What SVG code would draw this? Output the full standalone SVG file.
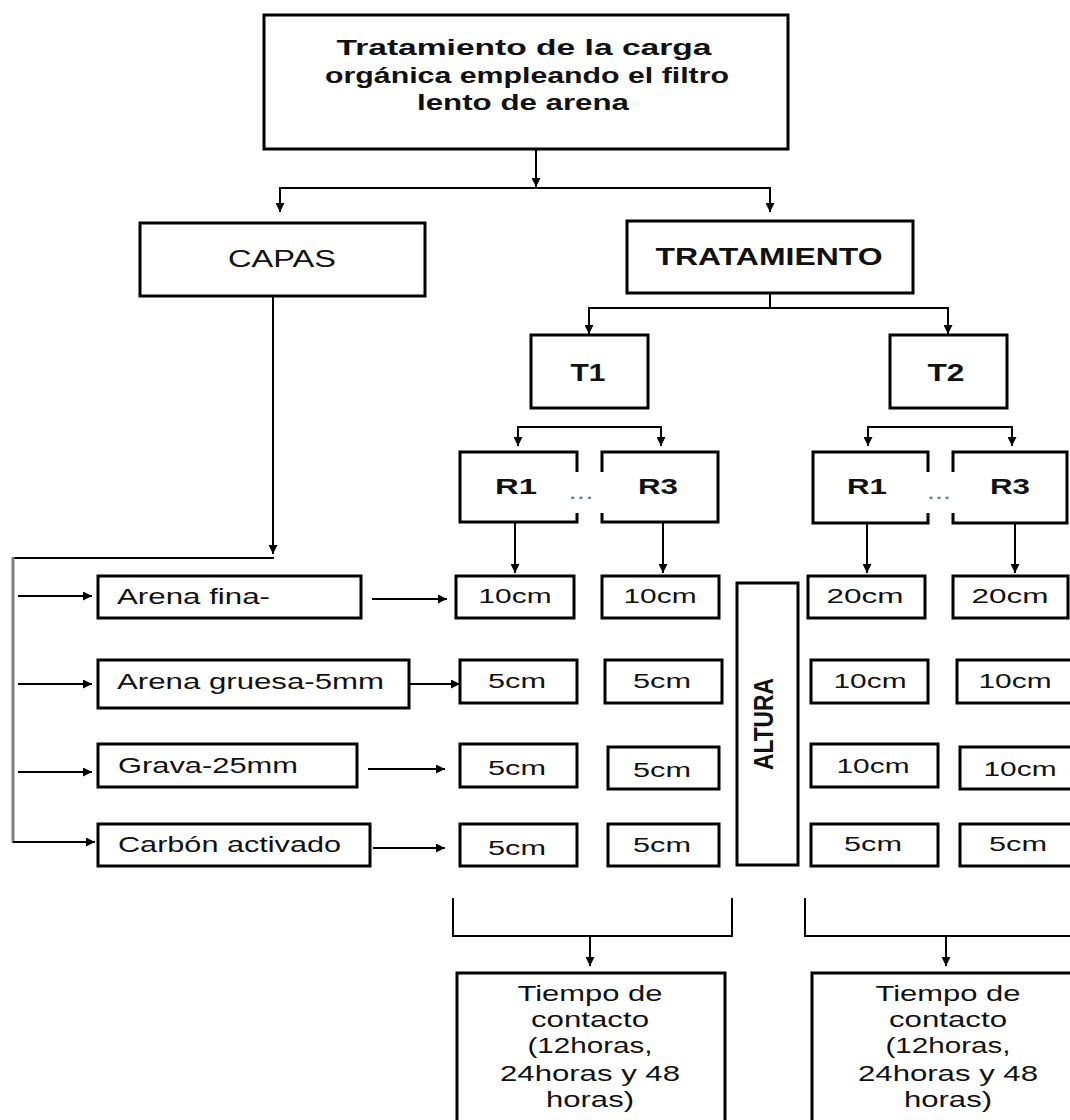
<svg xmlns="http://www.w3.org/2000/svg" width="1070" height="1120" viewBox="0 0 1070 1120">
<style>
.box{fill:#fff;stroke:#000;stroke-width:3}
.ln{fill:none;stroke:#000;stroke-width:2}
.t{font-family:"Liberation Sans",Arial,sans-serif;fill:#111;text-anchor:middle}
.b{font-weight:bold}
.l{text-anchor:start}
.dots{fill:#777}
</style>
<defs>
<marker id="ah" viewBox="0 0 10 10" refX="10" refY="5" markerWidth="9" markerHeight="9" markerUnits="userSpaceOnUse" orient="auto">
<path d="M0,0 L10,5 L0,10 z" fill="#000"/>
</marker>
</defs>
<rect width="1070" height="1120" fill="#fff"/>

<g id="connectors">
<path class="ln" d="M536,149 V187" marker-end="url(#ah)"/>
<path class="ln" d="M280,212 V188 H770 V212" marker-end="url(#ah)"/>
<path class="ln" d="M280,188 V212" marker-end="url(#ah)"/>
<path class="ln" d="M770,293 V308"/>
<path class="ln" d="M589,334 V308 H948 V334" marker-end="url(#ah)"/>
<path class="ln" d="M589,308 V334" marker-end="url(#ah)"/>
<path class="ln" d="M518,446 V427 H661 V446" marker-end="url(#ah)"/>
<path class="ln" d="M518,427 V446" marker-end="url(#ah)"/>
<path class="ln" d="M868,446 V427 H1012 V446" marker-end="url(#ah)"/>
<path class="ln" d="M868,427 V446" marker-end="url(#ah)"/>
<path class="ln" d="M515,522 V573" stroke-width="3" marker-end="url(#ah)"/>
<path class="ln" d="M663,522 V573" marker-end="url(#ah)"/>
<path class="ln" d="M867,522 V573" marker-end="url(#ah)"/>
<path class="ln" d="M1015,522 V573" marker-end="url(#ah)"/>
<path class="ln" d="M273,296 V554" stroke="#333" stroke-width="3" marker-end="url(#ah)"/>
<path class="ln" d="M13,558 H274"/>
<path d="M13,557 V843" stroke="#808080" stroke-width="3" fill="none"/>
<path class="ln" d="M18,596 H92" marker-end="url(#ah)"/>
<path class="ln" d="M18,684 H92" marker-end="url(#ah)"/>
<path class="ln" d="M18,772 H92" marker-end="url(#ah)"/>
<path class="ln" d="M13,842 H95" stroke-width="3" marker-end="url(#ah)"/>
<path class="ln" d="M372,599 H447" marker-end="url(#ah)"/>
<path class="ln" d="M410,684 H460" marker-end="url(#ah)"/>
<path class="ln" d="M368,769 H445" marker-end="url(#ah)"/>
<path class="ln" d="M373,848 H445" marker-end="url(#ah)"/>
<path class="ln" d="M453,898 V936 H732 V898" stroke-width="3"/>
<path class="ln" d="M590,936 V966" marker-end="url(#ah)"/>
<path class="ln" d="M805,898 V936 H1075" stroke-width="3"/>
<path class="ln" d="M946,936 V966" marker-end="url(#ah)"/>
</g>

<g id="n-root">
<rect class="box" x="264" y="15" width="524" height="134"/>
<text class="t b" font-size="22" x="524" y="55" textLength="375" lengthAdjust="spacingAndGlyphs">Tratamiento de la carga</text>
<text class="t b" font-size="22" x="527" y="83" textLength="404" lengthAdjust="spacingAndGlyphs">orgánica empleando el filtro</text>
<text class="t b" font-size="22" x="523" y="110" textLength="212" lengthAdjust="spacingAndGlyphs">lento de arena</text>
</g>

<g id="n-capas">
<rect class="box" x="140" y="223" width="285" height="73"/>
<text class="t" font-size="23" x="282" y="267" textLength="108" lengthAdjust="spacingAndGlyphs">CAPAS</text>
</g>

<g id="n-tratamiento">
<rect class="box" x="627" y="221" width="286" height="72"/>
<text class="t b" font-size="23" x="769" y="265" textLength="227" lengthAdjust="spacingAndGlyphs">TRATAMIENTO</text>
</g>

<g id="n-t1">
<rect class="box" x="531" y="335" width="117" height="73"/>
<text class="t b" font-size="23" x="588" y="381" textLength="35" lengthAdjust="spacingAndGlyphs">T1</text>
</g>
<g id="n-t2">
<rect class="box" x="890" y="335" width="117" height="73"/>
<text class="t b" font-size="23" x="946" y="381" textLength="37" lengthAdjust="spacingAndGlyphs">T2</text>
</g>

<g id="n-t1-r1">
<path class="box" d="M577,472 V452 H460 V522 H577 V513"/>
<text class="t b" font-size="22" x="516" y="494" textLength="42" lengthAdjust="spacingAndGlyphs">R1</text>
</g>
<text class="t dots" font-size="22" x="581" y="499" textLength="25" lengthAdjust="spacingAndGlyphs">...</text>
<g id="n-t1-r3">
<path class="box" d="M602,472 V452 H718 V522 H602 V513"/>
<text class="t b" font-size="22" x="658" y="494" textLength="40" lengthAdjust="spacingAndGlyphs">R3</text>
</g>
<g id="n-t2-r1">
<path class="box" d="M928,472 V452 H813 V523 H928 V513"/>
<text class="t b" font-size="22" x="867" y="494" textLength="40" lengthAdjust="spacingAndGlyphs">R1</text>
</g>
<text class="t dots" font-size="22" x="939" y="499" textLength="24" lengthAdjust="spacingAndGlyphs">...</text>
<g id="n-t2-r3">
<path class="box" d="M953,472 V452 H1067 V523 H953 V513"/>
<text class="t b" font-size="22" x="1010" y="494" textLength="40" lengthAdjust="spacingAndGlyphs">R3</text>
</g>

<g id="n-arena-fina">
<rect class="box" x="98" y="576" width="263" height="42"/>
<text class="t l" font-size="22" x="117" y="604" textLength="153" lengthAdjust="spacingAndGlyphs">Arena fina-</text>
</g>
<g id="n-arena-gruesa">
<rect class="box" x="98" y="660" width="311" height="48"/>
<text class="t l" font-size="22" x="117" y="689" textLength="267" lengthAdjust="spacingAndGlyphs">Arena gruesa-5mm</text>
</g>
<g id="n-grava">
<rect class="box" x="98" y="744" width="259" height="43"/>
<text class="t l" font-size="22" x="118" y="773" textLength="180" lengthAdjust="spacingAndGlyphs">Grava-25mm</text>
</g>
<g id="n-carbon">
<rect class="box" x="98" y="824" width="272" height="42"/>
<text class="t l" font-size="22" x="118" y="852" textLength="223" lengthAdjust="spacingAndGlyphs">Carbón activado</text>
</g>

<g id="n-t1r1-c1"><rect class="box" x="456" y="576" width="118" height="42"/><text class="t" font-size="20" x="515" y="603" textLength="73" lengthAdjust="spacingAndGlyphs">10cm</text></g>
<g id="n-t1r3-c1"><rect class="box" x="602" y="576" width="117" height="42"/><text class="t" font-size="20" x="660" y="603" textLength="73" lengthAdjust="spacingAndGlyphs">10cm</text></g>
<g id="n-t1r1-c2"><rect class="box" x="460" y="660" width="117" height="43"/><text class="t" font-size="20" x="517" y="688" textLength="58" lengthAdjust="spacingAndGlyphs">5cm</text></g>
<g id="n-t1r3-c2"><rect class="box" x="605" y="660" width="117" height="43"/><text class="t" font-size="20" x="662" y="688" textLength="58" lengthAdjust="spacingAndGlyphs">5cm</text></g>
<g id="n-t1r1-c3"><rect class="box" x="460" y="744" width="117" height="43"/><text class="t" font-size="20" x="517" y="775" textLength="58" lengthAdjust="spacingAndGlyphs">5cm</text></g>
<g id="n-t1r3-c3"><rect class="box" x="608" y="747" width="111" height="42"/><text class="t" font-size="20" x="662" y="777" textLength="58" lengthAdjust="spacingAndGlyphs">5cm</text></g>
<g id="n-t1r1-c4"><rect class="box" x="460" y="824" width="117" height="42"/><text class="t" font-size="20" x="517" y="855" textLength="58" lengthAdjust="spacingAndGlyphs">5cm</text></g>
<g id="n-t1r3-c4"><rect class="box" x="608" y="824" width="111" height="42"/><text class="t" font-size="20" x="662" y="852" textLength="58" lengthAdjust="spacingAndGlyphs">5cm</text></g>

<g id="n-altura">
<rect class="box" x="737" y="583" width="61" height="282"/>
<text class="t b" font-size="21" transform="translate(773,724) rotate(-90) scale(1,1.3)" x="0" y="0" textLength="92" lengthAdjust="spacingAndGlyphs">ALTURA</text>
</g>

<g id="n-t2r1-c1"><rect class="box" x="808" y="576" width="117" height="42"/><text class="t" font-size="20" x="865" y="603" textLength="77" lengthAdjust="spacingAndGlyphs">20cm</text></g>
<g id="n-t2r3-c1"><rect class="box" x="953" y="576" width="115" height="42"/><text class="t" font-size="20" x="1010" y="603" textLength="77" lengthAdjust="spacingAndGlyphs">20cm</text></g>
<g id="n-t2r1-c2"><rect class="box" x="811" y="660" width="117" height="43"/><text class="t" font-size="20" x="870" y="688" textLength="73" lengthAdjust="spacingAndGlyphs">10cm</text></g>
<g id="n-t2r3-c2"><rect class="box" x="957" y="660" width="118" height="43"/><text class="t" font-size="20" x="1015" y="688" textLength="73" lengthAdjust="spacingAndGlyphs">10cm</text></g>
<g id="n-t2r1-c3"><rect class="box" x="811" y="744" width="127" height="43"/><text class="t" font-size="20" x="873" y="773" textLength="73" lengthAdjust="spacingAndGlyphs">10cm</text></g>
<g id="n-t2r3-c3"><rect class="box" x="960" y="747" width="115" height="42"/><text class="t" font-size="20" x="1020" y="776" textLength="73" lengthAdjust="spacingAndGlyphs">10cm</text></g>
<g id="n-t2r1-c4"><rect class="box" x="811" y="824" width="127" height="42"/><text class="t" font-size="20" x="873" y="851" textLength="58" lengthAdjust="spacingAndGlyphs">5cm</text></g>
<g id="n-t2r3-c4"><rect class="box" x="960" y="824" width="115" height="42"/><text class="t" font-size="20" x="1018" y="851" textLength="58" lengthAdjust="spacingAndGlyphs">5cm</text></g>

<g id="n-tiempo-1">
<rect class="box" x="457" y="973" width="268" height="160"/>
<text class="t" font-size="22" x="590" y="1001" textLength="145" lengthAdjust="spacingAndGlyphs">Tiempo de</text>
<text class="t" font-size="22" x="590" y="1027" textLength="118" lengthAdjust="spacingAndGlyphs">contacto</text>
<text class="t" font-size="22" x="590" y="1053" textLength="125" lengthAdjust="spacingAndGlyphs">(12horas,</text>
<text class="t" font-size="22" x="590" y="1081" textLength="180" lengthAdjust="spacingAndGlyphs">24horas y 48</text>
<text class="t" font-size="22" x="590" y="1107" textLength="88" lengthAdjust="spacingAndGlyphs">horas)</text>
</g>
<g id="n-tiempo-2">
<rect class="box" x="812" y="973" width="270" height="160"/>
<text class="t" font-size="22" x="948" y="1001" textLength="145" lengthAdjust="spacingAndGlyphs">Tiempo de</text>
<text class="t" font-size="22" x="948" y="1027" textLength="118" lengthAdjust="spacingAndGlyphs">contacto</text>
<text class="t" font-size="22" x="948" y="1053" textLength="125" lengthAdjust="spacingAndGlyphs">(12horas,</text>
<text class="t" font-size="22" x="948" y="1081" textLength="180" lengthAdjust="spacingAndGlyphs">24horas y 48</text>
<text class="t" font-size="22" x="948" y="1107" textLength="88" lengthAdjust="spacingAndGlyphs">horas)</text>
</g>
</svg>
